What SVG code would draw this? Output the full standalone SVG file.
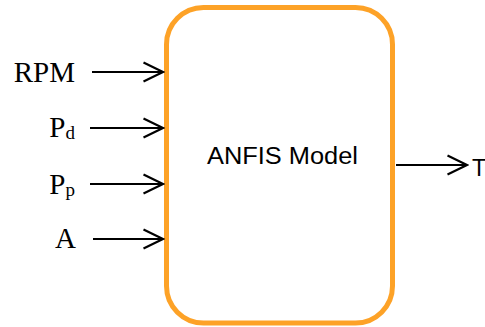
<svg xmlns="http://www.w3.org/2000/svg" width="485" height="327" viewBox="0 0 485 327">
<style>
.lbl{font-family:"Liberation Serif","Times New Roman",serif;font-size:29px;fill:#000}
.sub{font-size:19px}
.sans{font-family:"Liberation Sans",Arial,sans-serif;font-size:23px;fill:#000}
.ln{stroke:#000;stroke-width:2;fill:none}
</style>
<defs>
<marker id="chev" viewBox="0 0 22 22" refX="20.5" refY="11" markerWidth="22" markerHeight="22" markerUnits="userSpaceOnUse" orient="auto">
<path d="M1,1.5 L20.5,11 L1,20.5" fill="none" stroke="#000" stroke-width="2.2"/>
</marker>
</defs>
<g id="anfis">
<rect x="166.5" y="7.5" width="226" height="315.5" rx="37" ry="37" fill="#fff" stroke="#FDA227" stroke-width="5"/>
<text class="sans" x="207" y="163.5" textLength="151" lengthAdjust="spacingAndGlyphs">ANFIS Model</text>
</g>
<g id="in-rpm"><text class="lbl" x="75" y="82" text-anchor="end">RPM</text></g>
<g id="in-pd"><text class="lbl" x="75" y="137" text-anchor="end">P<tspan class="sub" dy="2">d</tspan></text></g>
<g id="in-pp"><text class="lbl" x="75" y="194" text-anchor="end">P<tspan class="sub" dy="2">p</tspan></text></g>
<g id="in-a"><text class="lbl" x="76" y="248" text-anchor="end">A</text></g>
<g id="out-t"><text class="sans" x="472" y="176" font-size="24">T</text></g>
<g id="connectors">
<line class="ln" x1="92" y1="72" x2="163" y2="72" marker-end="url(#chev)"/>
<line class="ln" x1="90" y1="128" x2="163" y2="128" marker-end="url(#chev)"/>
<line class="ln" x1="90" y1="184" x2="163" y2="184" marker-end="url(#chev)"/>
<line class="ln" x1="93" y1="239" x2="163" y2="239" marker-end="url(#chev)"/>
<line class="ln" x1="396" y1="165" x2="467" y2="165" marker-end="url(#chev)"/>
</g>
</svg>
